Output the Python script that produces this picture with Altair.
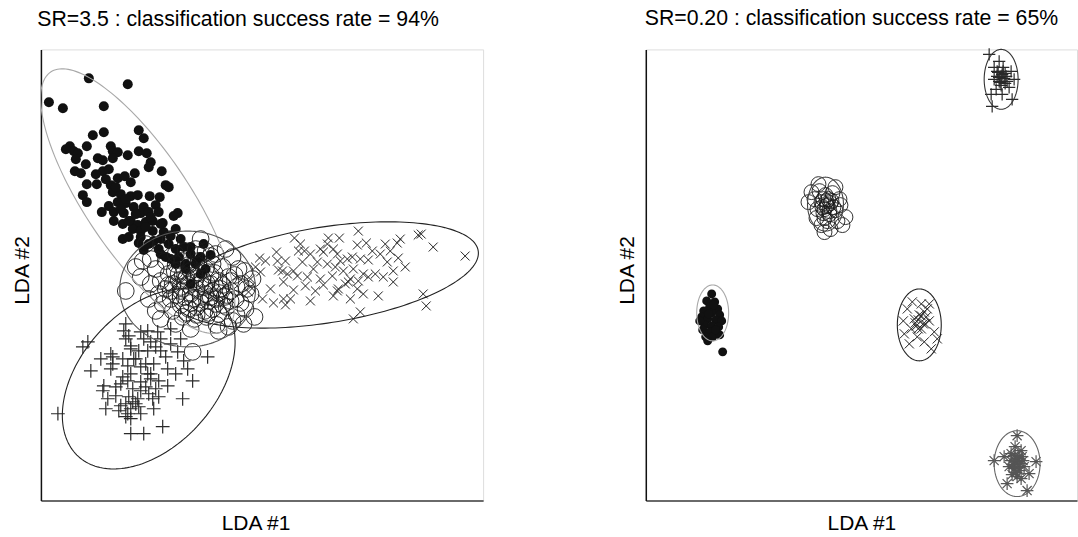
import altair as alt
import numpy as np
import pandas as pd

FONT = "Liberation Sans"

# ---------------- Left panel: SR=3.5 ----------------
L_dot_x = [48, 87, 8, 22, 63, 52, 63, 98, 103, 29, 33, 37, 46, 70, 72, 77, 87, 98, 106, 57, 62, 72, 110, 108,
           34, 40, 62, 68, 77, 84, 94, 121, 46, 56, 70, 90, 125, 128, 42, 46, 72, 80, 90, 97, 109, 119, 68, 77,
           85, 93, 103, 115, 61, 73, 83, 100, 108, 118, 137, 133, 73, 82, 90, 97, 105, 112, 122, 92, 100, 112,
           123, 130, 103, 113, 163, 120, 128, 135, 143, 150, 138, 156, 145, 130, 165, 120, 82, 88, 98, 170, 160, 150,
           80, 88, 100, 108, 118, 125, 135, 145, 155, 160, 150, 140, 135, 120, 110, 105, 95, 85, 75, 65, 55, 45, 35, 25]
L_dot_y = [423, 417, 399, 393, 395, 366, 369, 371, 363, 355, 350, 348, 355, 355, 350, 349, 346, 350, 348, 343, 341,
           343, 339, 334, 330, 328, 330, 332, 323, 325, 328, 330, 317, 317, 316, 319, 316, 314, 306, 299, 309, 307,
           305, 306, 305, 304, 295, 299, 298, 294, 294, 296, 289, 289, 288, 288, 289, 289, 288, 285, 280, 277, 280,
           276, 279, 280, 278, 272, 270, 270, 269, 265, 251, 260, 257, 262, 257, 252, 254, 247, 244, 240, 237, 242,
           232, 247, 262, 264, 258, 246, 227, 217,
           292, 280, 264, 257, 252, 244, 237, 232, 237, 244, 254, 262, 272, 277, 284, 274, 287, 302, 314, 322, 327,
           337, 342, 352]

L_circ_x = [135, 142, 150, 158, 165, 172, 138, 146, 154, 162, 170, 178, 132, 140, 148, 156, 164, 172, 180, 136,
            144, 152, 160, 168, 176, 184, 140, 148, 156, 164, 172, 130, 125, 128, 120, 118, 122, 132, 142, 154,
            166, 178, 186, 190, 188, 182, 175, 165, 155, 145, 135, 125, 115, 110, 108, 115, 100, 102, 195, 200,
            198, 192, 205, 203, 178, 152, 188, 192, 85, 95, 105, 120, 130, 160, 185, 210, 212, 150, 135, 120,
            110, 160, 150, 145, 170, 155, 140, 165, 175, 130,
            150, 158, 166, 174, 182, 190, 196, 186, 178, 170, 160, 150, 142, 138, 194, 200, 190, 182, 168, 156,
            146, 176, 196, 206, 204, 170, 158, 148, 134, 128, 214]
L_circ_y = [237, 240, 234, 240, 232, 237, 227, 224, 226, 222, 226, 220, 217, 214, 216, 212, 214, 210, 212, 206,
            204, 202, 204, 200, 202, 204, 196, 192, 194, 190, 192, 202, 212, 227, 220, 207, 197, 190, 184, 182,
            184, 187, 194, 210, 224, 234, 247, 250, 252, 250, 247, 240, 232, 217, 202, 190, 224, 240, 202, 217,
            232, 244, 192, 177, 170, 149, 174, 180, 210, 234, 257, 257, 262, 262, 252, 207, 222, 172, 177, 182,
            242, 217, 207, 222, 217, 222, 210, 207, 197, 210,
            230, 228, 218, 228, 216, 220, 214, 206, 208, 204, 198, 198, 226, 220, 226, 198, 200, 196, 188, 186,
            188, 176, 186, 212, 230, 245, 246, 236, 230, 216, 184]

L_x_x = [254, 318, 288, 299, 378, 381, 393, 425, 357, 350, 326, 317, 287, 293, 264, 258, 236, 219, 237, 245,
         262, 277, 283, 297, 307, 320, 328, 340, 347, 358, 365, 353, 343, 353, 323, 313, 303, 295, 287, 273,
         253, 242, 238, 247, 257, 267, 280, 292, 310, 318, 328, 308, 283, 265, 253, 243, 220, 210, 210, 208,
         222, 233, 243, 245, 270, 293, 298, 310, 323, 338, 320, 313, 383, 386, 297, 317,
         260, 270, 280, 300, 312, 332, 345, 360, 335, 305, 275, 250, 230, 225, 215]
L_x_y = [263, 270, 263, 263, 266, 267, 254, 245, 258, 250, 258, 256, 257, 252, 250, 250, 249, 243, 240, 240,
         239, 239, 249, 247, 242, 242, 241, 247, 239, 243, 234, 230, 224, 219, 227, 232, 230, 234, 237, 232,
         230, 230, 231, 227, 225, 224, 222, 225, 222, 220, 224, 219, 216, 215, 211, 219, 229, 222, 214, 209,
         202, 198, 202, 196, 200, 205, 212, 202, 207, 205, 189, 182, 207, 195, 210, 212,
         257, 247, 252, 240, 244, 250, 257, 262, 227, 217, 210, 202, 212, 240, 234]

L_plus_x = [85, 83, 88, 100, 107, 103, 110, 115, 120, 107, 98, 70, 72, 82, 47, 42, 50, 113, 125, 127, 137, 143,
            147, 167, 152, 100, 107, 82, 87, 63, 62, 75, 100, 110, 118, 127, 115, 105, 100, 97, 95, 90, 87, 85,
            92, 75, 67, 65, 80, 112, 118, 113, 142, 90, 103, 122, 17, 72, 87, 93, 90, 117, 130, 140,
            85, 90, 95, 105, 110, 90, 80, 92, 88, 98, 85, 78, 90, 100, 108, 70, 60, 120, 130, 135]
L_plus_y = [177, 170, 165, 169, 170, 162, 159, 154, 150, 150, 150, 147, 144, 142, 159, 154, 130, 137, 144, 132,
            149, 140, 132, 144, 120, 134, 127, 124, 120, 115, 110, 114, 119, 122, 120, 115, 112, 114, 110, 102,
            97, 92, 87, 84, 99, 105, 102, 92, 95, 102, 104, 92, 102, 67, 67, 74, 87, 137, 135, 142, 155, 169,
            172, 162,
            162, 152, 142, 137, 127, 127, 117, 112, 104, 94, 97, 90, 82, 87, 107, 132, 142, 162, 157, 127]

# ellipses (centre x, centre y, semi-axis a, semi-axis b, angle in degrees, colour)
L_ell_cx = [97, 147, 285, 108]
L_ell_cy = [300, 212, 226, 122]
L_ell_a = [156, 68, 155, 105]
L_ell_b = [52, 58, 48, 68]
L_ell_ang = [-56, 0, 9, 48]
L_ell_col = ["#a8a8a8", "#555555", "#222222", "#222222"]

# ---------------- Right panel: SR=0.20 ----------------
R_dot_x = [66, 61, 69, 64, 72, 58, 66, 74, 56, 62, 70, 76, 59, 66, 73, 57, 64, 71, 60, 67, 74, 62, 77, 54, 68, 63, 70]
R_dot_y = [207, 200, 199, 194, 192, 190, 188, 186, 184, 182, 181, 180, 176, 175, 174, 171, 169, 168, 164, 164,
           166, 160, 149, 180, 196, 187, 171]

R_circ_x = [181, 176, 186, 172, 190, 178, 184, 169, 194, 180, 187, 174, 166, 182, 192, 200, 176, 171, 195, 183,
            177, 188, 179, 173, 190, 179, 163, 197, 185, 182, 179, 185, 181, 178, 184]
R_circ_y = [295, 299, 300, 292, 291, 288, 287, 302, 302, 306, 308, 310, 309, 280, 280, 284, 276, 283, 296, 302,
            294, 294, 283, 317, 314, 269, 299, 276, 272, 296, 292, 298, 300, 302, 290]

R_x_x = [279, 282, 274, 269, 271, 276, 266, 284, 289, 259, 264, 279, 272, 292, 262, 284, 267, 276, 286, 258, 280,
         273, 276, 278, 273, 281, 270]
R_x_y = [189, 192, 186, 182, 175, 172, 172, 180, 169, 167, 157, 159, 164, 162, 192, 197, 199, 197, 152, 180, 177,
         181, 185, 177, 172, 184, 178]

R_plus_x = [344, 347, 356, 352, 360, 354, 362, 349, 358, 364, 351, 357, 366, 346, 367, 354, 369, 349,
            354, 357, 359, 355, 352, 358, 361, 356, 353, 360]
R_plus_y = [447, 395, 425, 430, 428, 420, 420, 422, 434, 414, 412, 407, 430, 407, 402, 440, 422, 434,
            424, 427, 423, 419, 425, 430, 425, 416, 429, 418]

R_star_x = [372, 349, 391, 362, 382, 376, 371, 366, 376, 369, 374, 364, 379, 370, 367, 378, 359, 372, 384,
            370, 373, 368, 375, 372, 369, 374, 366, 377, 371]
R_star_y = [65, 40, 39, 17, 10, 22, 39, 47, 50, 32, 44, 34, 34, 54, 26, 40, 44, 24, 27,
            40, 42, 36, 37, 33, 45, 30, 40, 44, 28]

R_ell_cx = [67, 180, 274, 356, 372]
R_ell_cy = [188, 297, 176, 422, 37]
R_ell_a = [16, 18, 22, 17, 23]
R_ell_b = [28, 27, 36, 30, 33]
R_ell_ang = [0, 0, 0, 0, 0]
R_ell_col = ["#a8a8a8", "#444444", "#222222", "#333333", "#666666"]

X_PATH = "M-1,-1L1,1M-1,1L1,-1"
PLUS_PATH = "M-1,0L1,0M0,-1L0,1"
STAR_PATH = "M-1,0L1,0M0,-1L0,1M-0.72,-0.72L0.72,0.72M-0.72,0.72L0.72,-0.72"


def ellipse_table(cx, cy, a, b, ang, col):
    rows = []
    t = np.linspace(0, 2 * np.pi, 181)
    for k in range(len(cx)):
        th = np.deg2rad(ang[k])
        ex = cx[k] + a[k] * np.cos(t) * np.cos(th) - b[k] * np.sin(t) * np.sin(th)
        ey = cy[k] + a[k] * np.cos(t) * np.sin(th) + b[k] * np.sin(t) * np.cos(th)
        for i in range(len(t)):
            rows.append({"x": float(ex[i]), "y": float(ey[i]), "g": k, "i": i, "col": col[k]})
    return pd.DataFrame(rows)


def panel(title, dx, toff, xdom, ydom, dots, circs, xs, pluses, stars, ells, w, h, xtitle_x,
          psize=1.0, xsize=80):
    xenc = alt.X("x:Q", scale=alt.Scale(domain=xdom, nice=False, zero=False),
                 axis=alt.Axis(title="LDA #1", ticks=False, labels=False, grid=False,
                               domainColor="#6a6a6a", domainWidth=2, titleFont=FONT,
                               titleFontSize=21, titleFontWeight="normal", titleColor="black",
                               titlePadding=12, titleX=xtitle_x))
    yenc = alt.Y("y:Q", scale=alt.Scale(domain=ydom, nice=False, zero=False),
                 axis=alt.Axis(title="LDA #2", ticks=False, labels=False, grid=False,
                               domainColor="#111111", domainWidth=1.5, titleFont=FONT,
                               titleFontSize=21, titleFontWeight="normal", titleColor="black",
                               titlePadding=8, titleY=221))
    layers = []
    d = pd.DataFrame({"x": dots[0], "y": dots[1]})
    layers.append(alt.Chart(d).mark_point(shape="circle", filled=True, color="#111111", opacity=1,
                                          size=100 * psize).encode(x=xenc, y=yenc))
    if pluses is not None:
        d = pd.DataFrame({"x": pluses[0], "y": pluses[1]})
        layers.append(alt.Chart(d).mark_point(shape=PLUS_PATH, filled=False, color="#2a2a2a", opacity=1,
                                              size=190 * psize, strokeWidth=1.2).encode(x=xenc, y=yenc))
    if stars is not None:
        d = pd.DataFrame({"x": stars[0], "y": stars[1]})
        layers.append(alt.Chart(d).mark_point(shape=STAR_PATH, filled=False, color="#555555", opacity=1,
                                              size=200 * psize, strokeWidth=1.2).encode(x=xenc, y=yenc))
    d = pd.DataFrame({"x": xs[0], "y": xs[1]})
    layers.append(alt.Chart(d).mark_point(shape=X_PATH, filled=False, color="#222222", opacity=1,
                                          size=xsize, strokeWidth=1).encode(x=xenc, y=yenc))
    d = pd.DataFrame({"x": circs[0], "y": circs[1]})
    layers.append(alt.Chart(d).mark_point(shape="circle", filled=False, color="#1a1a1a", opacity=1,
                                          size=280 * psize, strokeWidth=0.9).encode(x=xenc, y=yenc))
    e = ellipse_table(*ells)
    layers.append(alt.Chart(e).mark_line(strokeWidth=1.1).encode(
        x=xenc, y=yenc, detail="g:N", order="i:Q", color=alt.Color("col:N", scale=None)))
    return alt.layer(*layers).properties(
        width=w, height=h,
        title=alt.TitleParams(title, font=FONT, fontSize=21.3, fontWeight="normal", color="black",
                              anchor="middle", dx=dx, baseline="alphabetic", offset=toff))


left = panel("SR=3.5 : classification success rate = 94%", -24, 2, [0, 443], [0, 452],
             (L_dot_x, L_dot_y), (L_circ_x, L_circ_y), (L_x_x, L_x_y), (L_plus_x, L_plus_y), None,
             (L_ell_cx, L_ell_cy, L_ell_a, L_ell_b, L_ell_ang, L_ell_col), 443, 452, 215)
right = panel("SR=0.20 : classification success rate = 65%", -10, 0, [0, 432], [0, 452],
              (R_dot_x, R_dot_y), (R_circ_x, R_circ_y), (R_x_x, R_x_y), (R_plus_x, R_plus_y),
              (R_star_x, R_star_y),
              (R_ell_cx, R_ell_cy, R_ell_a, R_ell_b, R_ell_ang, R_ell_col), 432, 452, 216,
              psize=0.8, xsize=85)

chart = alt.hconcat(left, right, spacing=132).properties(
    padding={"left": 11, "top": 6, "right": 0, "bottom": 0}
).configure_view(stroke="transparent", strokeWidth=0, strokeOpacity=0).configure(
    font=FONT, background="white")

chart.save("out.html", embed_options={"renderer": "svg", "actions": False})
